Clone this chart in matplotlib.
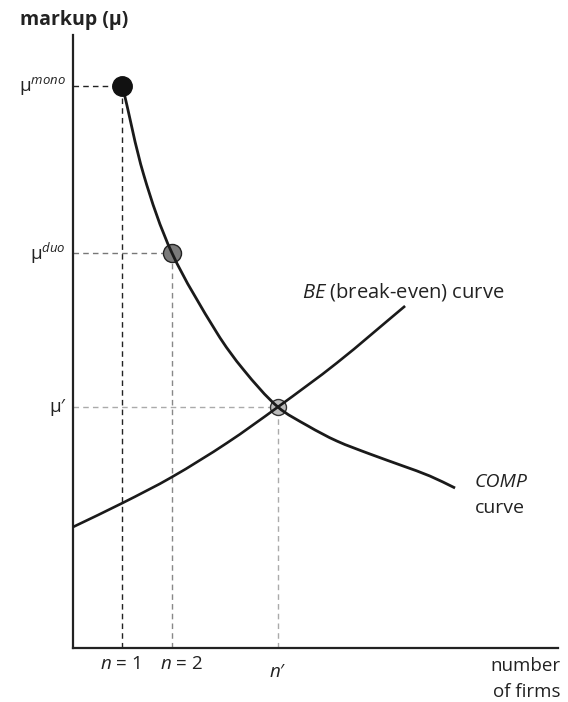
import matplotlib
matplotlib.use("Agg")
import matplotlib.pyplot as plt
from matplotlib.path import Path
from matplotlib.patches import PathPatch

plt.rcParams['font.family'] = ['Open Sans', 'DejaVu Sans']
plt.rcParams['mathtext.fontset'] = 'custom'
plt.rcParams['mathtext.rm'] = 'Open Sans'
plt.rcParams['mathtext.it'] = 'Open Sans:italic'

# COMP curve (number of firms, markup)
comp_n = [1.0, 1.43, 2.0, 2.91, 3.45, 4.14, 4.75, 5.33, 6.0, 6.67, 7.21, 7.72]
comp_mu = [5.62, 4.73, 3.95, 3.15, 2.78, 2.41, 2.22, 2.07, 1.94, 1.82, 1.72, 1.60]

# BE (break-even) curve
be_n = [0.0, 1.0, 2.0, 3.11, 4.14, 5.33, 6.71]
be_mu = [1.21, 1.45, 1.71, 2.05, 2.41, 2.85, 3.42]

# key points
n_mono, mu_mono = 1.0, 5.62
n_duo, mu_duo = 2.0, 3.95
n_eq, mu_eq = 4.14, 2.41

XLIM = (0, 9.8)
YLIM = (0, 6.13)


def smooth_path(xs, ys, sx=49.5, sy=100.0):
    """Cubic Bezier path through the points (chord-length Catmull-Rom)."""
    pts = list(zip(xs, ys))
    n = len(pts)
    d = []
    for i in range(n - 1):
        dx = (pts[i + 1][0] - pts[i][0]) * sx
        dy = (pts[i + 1][1] - pts[i][1]) * sy
        d.append(max((dx * dx + dy * dy) ** 0.5, 1e-9))
    tang = []
    for i in range(n):
        if i == 0:
            tx = (pts[1][0] - pts[0][0]) / d[0]
            ty = (pts[1][1] - pts[0][1]) / d[0]
        elif i == n - 1:
            tx = (pts[-1][0] - pts[-2][0]) / d[-1]
            ty = (pts[-1][1] - pts[-2][1]) / d[-1]
        else:
            tt = d[i - 1] + d[i]
            tx = (pts[i + 1][0] - pts[i - 1][0]) / tt
            ty = (pts[i + 1][1] - pts[i - 1][1]) / tt
        tang.append((tx, ty))
    verts = [pts[0]]
    codes = [Path.MOVETO]
    for i in range(n - 1):
        h = d[i] / 3.0
        c1 = (pts[i][0] + tang[i][0] * h, pts[i][1] + tang[i][1] * h)
        c2 = (pts[i + 1][0] - tang[i + 1][0] * h, pts[i + 1][1] - tang[i + 1][1] * h)
        verts += [c1, c2, pts[i + 1]]
        codes += [Path.CURVE4] * 3
    return Path(verts, codes)


fig = plt.figure(figsize=(5.68, 7.02), dpi=100)
ax = fig.add_axes([73/568, 54/702, 485/568, 613/702])
ax.set_xlim(*XLIM)
ax.set_ylim(*YLIM)
for s in ['top', 'right']:
    ax.spines[s].set_visible(False)
for s in ['left', 'bottom']:
    ax.spines[s].set_linewidth(1.6)
    ax.spines[s].set_color('#222222')
ax.set_xticks([])
ax.set_yticks([])

# reference dashed lines
ax.plot([0, n_mono], [mu_mono, mu_mono], ls=(0, (4, 3)), color='#222222', lw=1.0)
ax.plot([n_mono, n_mono], [0, mu_mono], ls=(0, (4, 3)), color='#222222', lw=1.0)
ax.plot([0, n_duo], [mu_duo, mu_duo], ls=(0, (4, 3)), color='#777777', lw=1.0)
ax.plot([n_duo, n_duo], [0, mu_duo], ls=(0, (4, 3)), color='#888888', lw=1.0)
ax.plot([0, n_eq], [mu_eq, mu_eq], ls=(0, (4, 3)), color='#aaaaaa', lw=1.0)
ax.plot([n_eq, n_eq], [0, mu_eq], ls=(0, (4, 3)), color='#aaaaaa', lw=1.0)

# curves
ax.add_patch(PathPatch(smooth_path(comp_n, comp_mu), fill=False, ec='#1a1a1a', lw=2.0,
                       capstyle='butt', zorder=3))
ax.add_patch(PathPatch(smooth_path(be_n, be_mu), fill=False, ec='#1a1a1a', lw=1.9,
                       capstyle='butt', zorder=3))

# points
ax.plot([n_mono], [mu_mono], 'o', ms=14, color='#111111', mec='#111111', zorder=4)
ax.plot([n_duo], [mu_duo], 'o', ms=13, color='#7a7a7a', mec='#222222', mew=1.0, zorder=2)
ax.plot([n_eq], [mu_eq], 'o', ms=11.5, color='#bbbbbb', mec='#333333', mew=1.0, zorder=2)

tc = '#222222'
# y labels
fig.text(20/568, 1 - 20/702, 'markup (μ)', fontsize=14, fontweight='bold', color=tc,
         va='center', ha='left')
ax.text(-0.15, mu_mono, r'μ$^{\it{mono}}$', fontsize=13.5, color=tc, ha='right', va='center')
ax.text(-0.15, mu_duo, r'μ$^{\it{duo}}$', fontsize=13.5, color=tc, ha='right', va='center')
ax.text(-0.15, mu_eq, 'μ′', fontsize=13.5, color=tc, ha='right', va='center')

# x labels
ax.text(n_mono - 0.05, -0.16, r'$\it{n}$ = 1', fontsize=13.5, color=tc, ha='center', va='center')
ax.text(n_duo + 0.2, -0.16, r'$\it{n}$ = 2', fontsize=13.5, color=tc, ha='center', va='center')
ax.text(n_eq, -0.24, r'$\it{n}$′', fontsize=13.5, color=tc, ha='center', va='center')
ax.text(9.85, -0.18, 'number', fontsize=13.5, color=tc, ha='right', va='center', clip_on=False)
ax.text(9.85, -0.44, 'of firms', fontsize=13.5, color=tc, ha='right', va='center', clip_on=False)

# curve labels
ax.text(4.63, 3.56, r'$\it{BE}$ (break-even) curve', fontsize=14.5, color=tc,
        ha='left', va='center')
ax.text(8.12, 1.66, 'COMP', fontsize=14, color=tc, ha='left', va='center', style='italic')
ax.text(8.12, 1.40, 'curve', fontsize=14, color=tc, ha='left', va='center')

fig.savefig('out.png', dpi=100)
